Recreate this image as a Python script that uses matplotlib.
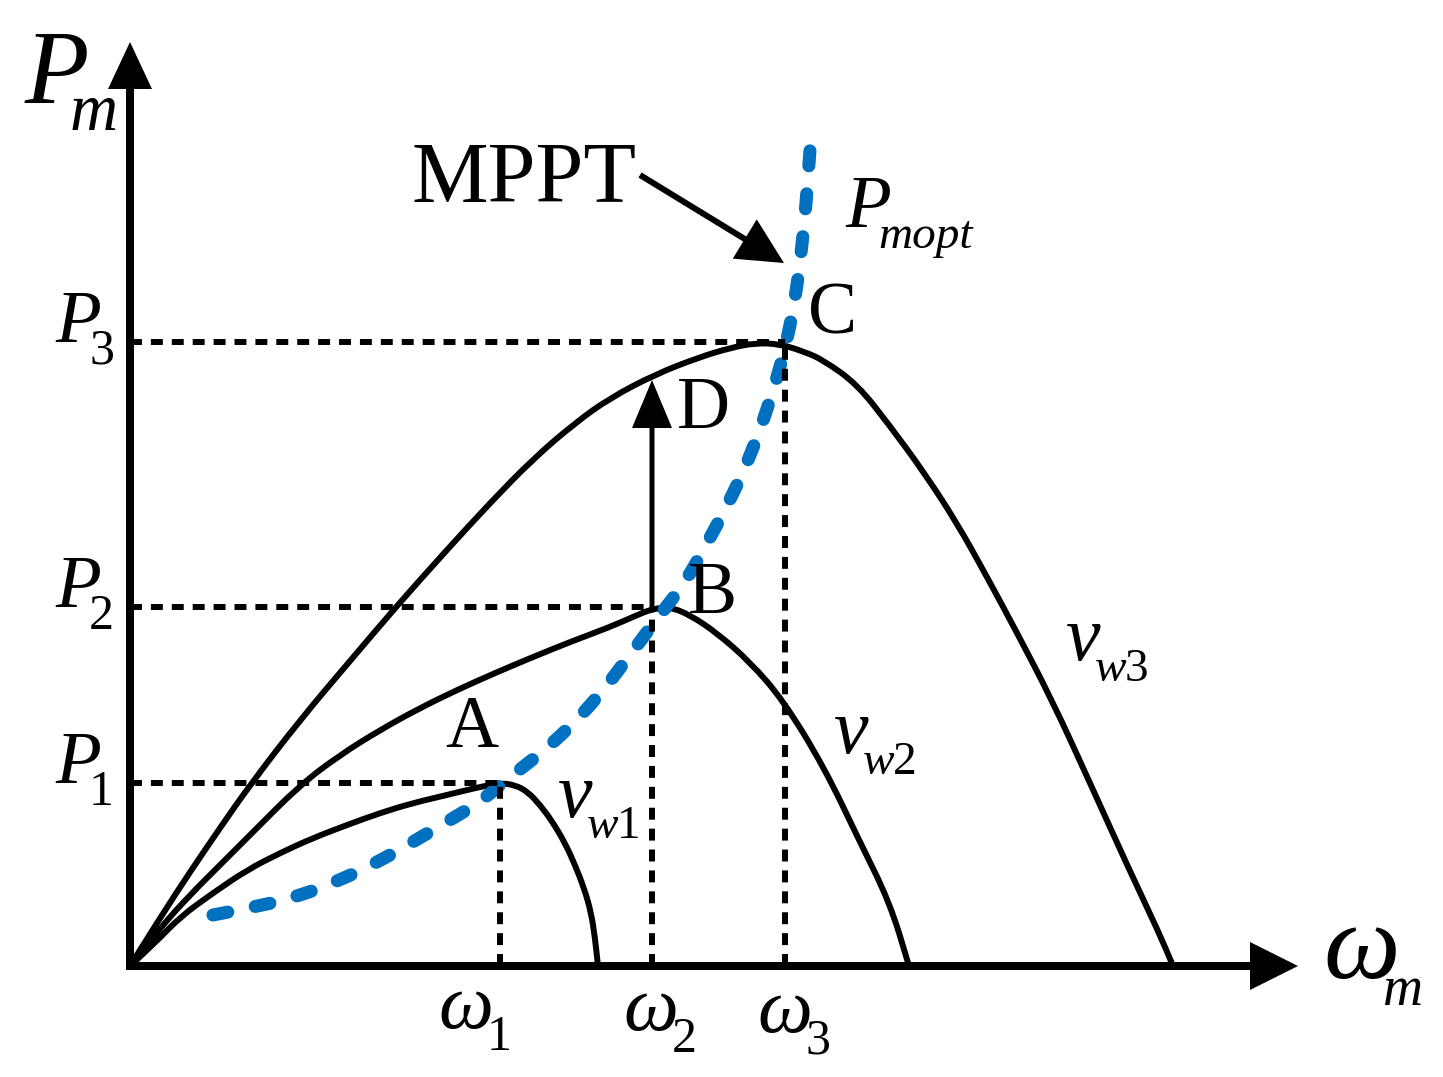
import matplotlib.pyplot as plt
from matplotlib.path import Path
from matplotlib.patches import PathPatch

# the sketch is laid out in pixel-sized units measured from the axis origin
W, H = 1443, 1077
X0, Y0 = 130, 966

# operating points A, B, C
omega_pts = [370, 522, 655]      # w1, w2, w3
p_pts = [183, 359, 624]          # P1, P2, P3

# P(w) curves for the three wind speeds
vw1_w = [0, 26, 50, 83, 117, 150, 183, 217, 250, 283, 317, 345, 370, 385, 398, 410, 422, 435, 445, 454, 461, 465, 468]
vw1_p = [0, 24, 49, 73, 96, 113, 128, 141, 153, 163, 171, 178, 183, 181, 174, 161, 145, 123, 101, 78, 54, 28, 0]

vw2_w = [0, 30, 60, 90, 120, 170, 210, 250, 290, 327, 365, 403, 440, 480, 505, 522, 540, 560, 587, 620, 653, 694, 729, 760, 779]
vw2_p = [0, 38, 71, 101, 131, 181, 211, 236, 258, 276, 293, 309, 324, 339, 350, 357, 359, 351, 333, 304, 266, 199, 126, 63, 0]

vw3_w = [0, 30, 60, 90, 120, 170, 220, 265, 315, 360, 403, 445, 480, 526, 570, 600, 625, 650, 675, 693, 727, 760, 793, 827, 857, 885, 922, 960, 998, 1030, 1043]
vw3_p = [0, 48, 94, 138, 181, 246, 305, 358, 414, 463, 507, 543, 568, 592, 609, 618, 623, 622, 614, 606, 582, 540, 495, 443, 389, 337, 266, 183, 99, 31, 0]

# optimum power (MPPT) curve
mppt_w = [83, 130, 169, 208, 246, 281, 315, 350, 380, 415, 447, 476, 505, 530, 556, 575, 597, 615, 630, 644, 656, 665, 671, 676, 680]
mppt_p = [51, 60, 70, 85, 103, 123, 143, 164, 189, 216, 246, 279, 318, 351, 385, 419, 460, 498, 536, 578, 621, 666, 711, 761, 816]

# label positions of w1..w3 under the axis
omega_lbl_x = [308, 493, 627]


def smooth_path(xs, ys):
    # quadratic bezier through the midpoints, so the read points give a smooth line
    pts = list(zip(xs, ys))
    verts, codes = [pts[0]], [Path.MOVETO]
    for i in range(1, len(pts) - 1):
        mid = ((pts[i][0] + pts[i + 1][0]) / 2, (pts[i][1] + pts[i + 1][1]) / 2)
        verts += [pts[i], mid]
        codes += [Path.CURVE3, Path.CURVE3]
    verts.append(pts[-1])
    codes.append(Path.LINETO)
    return Path(verts, codes)


plt.rcParams['font.family'] = ['Liberation Serif', 'DejaVu Serif']

fig = plt.figure(figsize=(W / 100, H / 100), dpi=100)
ax = fig.add_axes([0, 0, 1, 1])
ax.set_xlim(-X0, W - X0)
ax.set_ylim(Y0 - H, Y0)
ax.axis('off')

# dashed guide lines to the axes
for w, p in zip(omega_pts, p_pts):
    ax.plot([0, w], [p, p], color='k', lw=4.3, linestyle=(0, (2.0, 1.5)), dash_capstyle='butt')
    ax.plot([w, w], [0, p], color='k', lw=4.3, linestyle=(0, (2.0, 1.5)), dash_capstyle='butt')

# wind power curves
for cw, cp in [(vw1_w, vw1_p), (vw2_w, vw2_p), (vw3_w, vw3_p)]:
    ax.add_patch(PathPatch(smooth_path(cw, cp), fill=False, ec='k', lw=4.3,
                           joinstyle='round', capstyle='round'))

# MPPT curve
ax.add_patch(PathPatch(smooth_path(mppt_w, mppt_p), fill=False, ec='#0070C0', lw=9.4,
                       ls=(0, (1.15, 2.15)), capstyle='round'))

# axes with arrows
ax.arrow(-4, 0, 1172, 0, width=8, head_width=48, head_length=48,
         length_includes_head=True, fc='k', ec='none')
ax.arrow(0, -4, 0, 928, width=8, head_width=44, head_length=47,
         length_includes_head=True, fc='k', ec='none')

# B -> D step and MPPT pointer
ax.arrow(omega_pts[1], p_pts[1], 0, 227, width=5, head_width=40, head_length=48,
         length_includes_head=True, fc='k', ec='none')
ax.arrow(510, 791, 144, -88, width=6, head_width=46, head_length=46,
         length_includes_head=True, fc='k', ec='none')

# labels
it = dict(style='italic', ha='left', va='baseline')
up = dict(ha='left', va='baseline')

ax.text(-105, 863, 'P', fontsize=76, **it)
ax.text(-60, 836, 'm', fontsize=48, **it)
ax.text(1193, -12, 'ω', fontsize=78, **it)
ax.text(1253, -39, 'm', fontsize=40, **it)

for i, p in enumerate(p_pts):
    ax.text(-75, p, 'P', fontsize=54, **it)
    ax.text(-41, p - 22, str(i + 1), fontsize=36, **up)

for i, x in enumerate(omega_lbl_x):
    ax.text(x, -62 - 2 * i, 'ω', fontsize=56, **it)
    ax.text(x + 49, -84 - 2 * i, str(i + 1), fontsize=36, **up)

ax.text(315, 219, 'A', fontsize=53, **up)
ax.text(558, 353, 'B', fontsize=53, **up)
ax.text(678, 633, 'C', fontsize=53, **up)
ax.text(547, 538, 'D', fontsize=53, **up)

ax.text(281, 764, 'MPPT', fontsize=62, **up)
ax.text(715, 739, 'P', fontsize=54, **it)
ax.text(748, 718, 'mopt', fontsize=34, **it)

for (vx, vy), k in zip([(428, 149), (704, 213), (936, 306)], ['1', '2', '3']):
    ax.text(vx, vy, 'v', fontsize=56, **it)
    ax.text(vx + 29, vy - 21, 'w', fontsize=34, **it)
    ax.text(vx + 59, vy - 21, k, fontsize=34, **up)

fig.savefig('out.png', dpi=100)
